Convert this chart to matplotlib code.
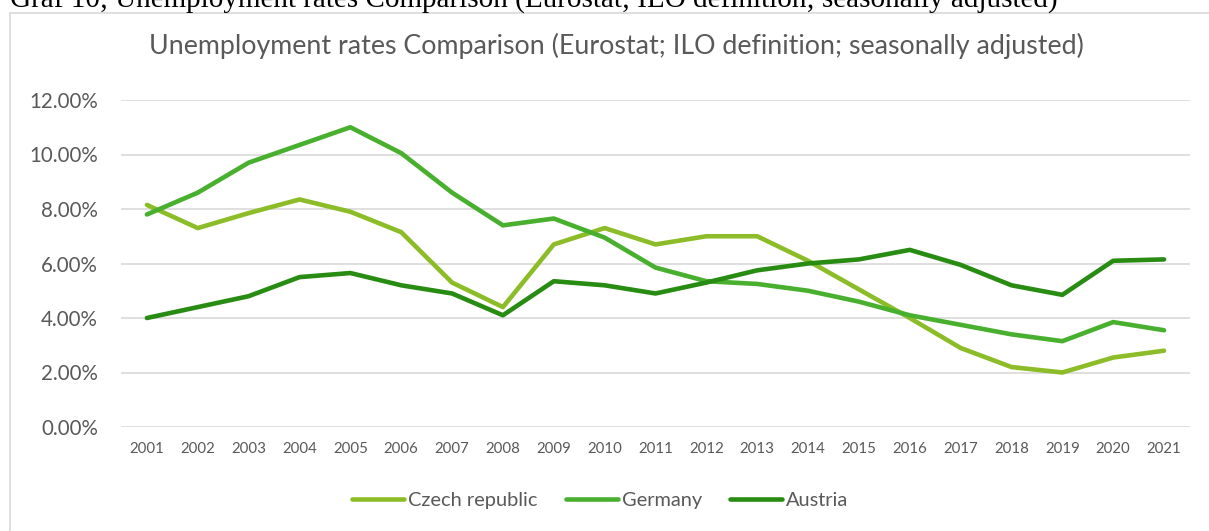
import matplotlib
matplotlib.use("Agg")
import matplotlib.pyplot as plt
from matplotlib.patches import Rectangle
from matplotlib.ticker import FuncFormatter

years = [str(y) for y in range(2001, 2022)]
czech = [8.15, 7.3, 7.85, 8.35, 7.9, 7.15, 5.3, 4.4, 6.7, 7.3, 6.7, 7.0, 7.0, 6.1, 5.05, 4.0, 2.9, 2.2, 2.0, 2.55, 2.8]
germany = [7.8, 8.6, 9.7, 10.35, 11.0, 10.05, 8.6, 7.4, 7.65, 6.95, 5.85, 5.35, 5.25, 5.0, 4.6, 4.1, 3.75, 3.4, 3.15, 3.85, 3.55]
austria = [4.0, 4.4, 4.8, 5.5, 5.65, 5.2, 4.9, 4.1, 5.35, 5.2, 4.9, 5.3, 5.75, 6.0, 6.15, 6.5, 5.95, 5.2, 4.85, 6.1, 6.15]
series_names = ["Czech republic", "Germany", "Austria"]
colors = ["#8cbd29", "#48b02e", "#288c12"]
title = "Unemployment rates Comparison (Eurostat; ILO definition; seasonally adjusted)"
caption = "Graf 10; Unemployment rates Comparison (Eurostat; ILO definition; seasonally adjusted)"

SANS = "Lato"
W, H = 1209, 531
fig = plt.figure(figsize=(W / 100, H / 100), dpi=100)
fig.patch.set_facecolor("white")
renderer = fig.canvas.get_renderer()


def fit_size(s, family, target_px, base=10.0):
    t = fig.text(0, 0, s, family=family, fontsize=base)
    w = t.get_window_extent(renderer).width
    t.remove()
    return base * target_px / w


# chart border box
fig.patches.append(Rectangle((9.5 / W, -0.1), 1.2, 1 - 13 / H + 0.1, transform=fig.transFigure,
                             fill=False, edgecolor="#d9d9d9", linewidth=1.2))

# caption at top (its upper part lies outside the picture, as in the reference)
cap_fs = fit_size(caption, "Liberation Serif", 1050)
fig.text(10 / W, 1 - 8 / H, caption, family="Liberation Serif", fontsize=cap_fs,
         color="black", va="baseline", ha="left")

left, right = 121 / W, 1190 / W
bottom, top = 1 - 427 / H, 1 - 100 / H
ax = fig.add_axes([left, bottom, right - left, top - bottom])

x = list(range(len(years)))
for vals, name, c in zip([czech, germany, austria], series_names, colors):
    ax.plot(x, [v / 100 for v in vals], color=c, linewidth=3.3, label=name,
            solid_capstyle="round", solid_joinstyle="round", zorder=3)

ax.set_xlim(-0.51, 20.51)
ax.set_ylim(0, 0.12)
ax.set_yticks([i * 0.02 for i in range(7)])
ax.yaxis.set_major_formatter(FuncFormatter(lambda v, p: f"{v * 100:.2f}%"))
ax.set_xticks(x)
ax.set_xticklabels(years)
ax.grid(axis="y", color="#d9d9d9", linewidth=1.2, zorder=0)
for s in ax.spines.values():
    s.set_visible(False)

ytick_fs = fit_size("12.00%", SANS, 69)
xtick_fs = fit_size("2001", SANS, 35)
ax.tick_params(axis="both", length=0, colors="#595959")
ax.tick_params(axis="y", labelsize=ytick_fs, pad=23 * 0.72)
ax.tick_params(axis="x", labelsize=xtick_fs, pad=15 * 0.72)
for lab in ax.get_xticklabels() + ax.get_yticklabels():
    lab.set_family(SANS)

title_fs = fit_size(title, SANS, 932)
fig.text(616 / W, 1 - 54 / H, title, family=SANS, fontsize=title_fs, color="#595959",
         ha="center", va="baseline")

leg_fs = fit_size("Czech republic", SANS, 130)
fpx = leg_fs * 100 / 72
leg = fig.legend(loc="center", bbox_to_anchor=(600 / W, 1 - 500 / H), ncol=3, frameon=False,
                 prop={"family": SANS, "size": leg_fs}, handlelength=52 / fpx,
                 handletextpad=4 / fpx, columnspacing=28 / fpx)
for t in leg.get_texts():
    t.set_color("#595959")

fig.savefig("out.png", dpi=100)
